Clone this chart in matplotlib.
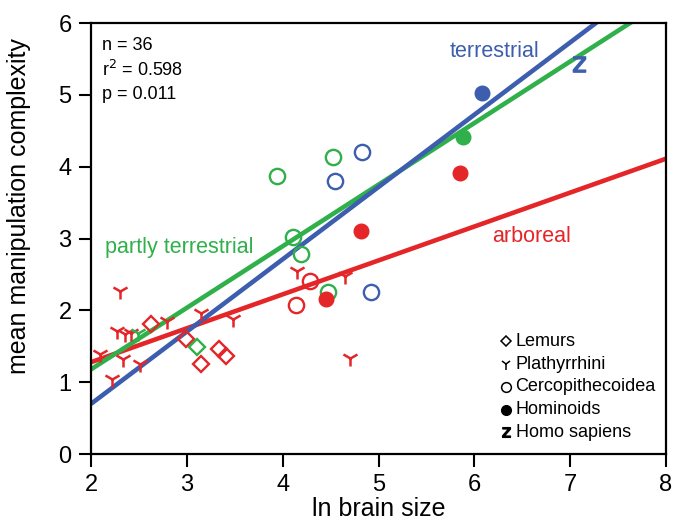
import matplotlib.pyplot as plt
import numpy as np

plt.rcParams['font.family'] = ['Liberation Sans', 'DejaVu Sans']

RED = '#e42629'
GREEN = '#2fb04a'
BLUE = '#3d5eae'

# Lemurs (diamonds)
lemur_x = [2.63, 2.99, 3.34, 3.41, 3.15, 3.11]
lemur_y = [1.81, 1.60, 1.47, 1.36, 1.25, 1.49]
lemur_c = ['r', 'r', 'r', 'r', 'r', 'g']

# Plathyrrhini (Y)
platy_x = [2.30, 2.79, 3.15, 3.48, 2.27, 2.35, 2.42, 2.49, 2.09, 2.33, 2.51, 2.22, 4.15, 4.65, 4.70]
platy_y = [2.27, 1.85, 1.97, 1.875, 1.71, 1.67, 1.68, 1.68, 1.39, 1.32, 1.25, 1.04, 2.55, 2.48, 1.34]
platy_c = ['r', 'r', 'r', 'r', 'r', 'r', 'r', 'g', 'r', 'r', 'r', 'r', 'r', 'r', 'r']

# Cercopithecoidea (open circles)
cerco_x = [3.94, 4.53, 4.11, 4.19, 4.47, 4.83, 4.55, 4.92, 4.28, 4.14]
cerco_y = [3.87, 4.13, 3.02, 2.79, 2.26, 4.20, 3.80, 2.25, 2.41, 2.07]
cerco_c = ['g', 'g', 'g', 'g', 'g', 'b', 'b', 'b', 'r', 'r']

# Hominoids (filled circles)
homin_x = [6.08, 5.88, 5.85, 4.82, 4.45]
homin_y = [5.02, 4.41, 3.91, 3.10, 2.16]
homin_c = ['b', 'g', 'r', 'r', 'r']

# Homo sapiens
homo_x = [7.09]
homo_y = [5.43]

# regression lines: (intercept at x=2, slope)
fits = {
    'arboreal': (1.28, 0.472, RED),
    'partly terrestrial': (1.18, 0.857, GREEN),
    'terrestrial': (0.70, 1.006, BLUE),
}

cmap = {'r': RED, 'g': GREEN, 'b': BLUE}

fig = plt.figure(figsize=(6.75, 5.28), dpi=100)
ax = fig.add_axes([0.1348, 0.1398, 0.8519, 0.8166])

xs = np.array([2.0, 8.0])
for name, (b, m, col) in fits.items():
    ax.plot(xs, b + m * (xs - 2), color=col, lw=3.3, zorder=2, solid_capstyle='butt')

for x, y, c in zip(lemur_x, lemur_y, lemur_c):
    ax.plot(x, y, marker='D', ms=8.5, mfc='none', mec=cmap[c], mew=1.7, ls='none', zorder=3)
for x, y, c in zip(platy_x, platy_y, platy_c):
    ax.plot(x, y, marker='1', ms=12, color=cmap[c], mew=1.8, ls='none', zorder=3)
for x, y, c in zip(cerco_x, cerco_y, cerco_c):
    ax.plot(x, y, marker='o', ms=11, mfc='none', mec=cmap[c], mew=1.7, ls='none', zorder=3)
for x, y, c in zip(homin_x, homin_y, homin_c):
    ax.plot(x, y, marker='o', ms=10.5, color=cmap[c], ls='none', zorder=3)
ax.plot(homo_x, homo_y, marker=r'$\mathsf{z}$', ms=11, color=BLUE, ls='none', zorder=3)

# line labels
ax.text(6.21, 5.6, 'terrestrial', color=BLUE, fontsize=15.5, ha='center', va='center')
ax.text(2.15, 2.88, 'partly terrestrial', color=GREEN, fontsize=15.5, ha='left', va='center')
ax.text(6.6, 3.03, 'arboreal', color=RED, fontsize=15.5, ha='center', va='center')

# stats
ax.text(2.11, 5.69, 'n = 36', fontsize=13, va='center')
ax.text(2.11, 5.35, r'r$^2$ = 0.598', fontsize=13, va='center')
ax.text(2.11, 5.0, 'p = 0.011', fontsize=13, va='center')

# legend
leg_markers = ['D', '1', 'o', 'o', r'$\mathsf{z}$']
leg_labels = ['Lemurs', 'Plathyrrhini', 'Cercopithecoidea', 'Hominoids', 'Homo sapiens']
leg_filled = [False, False, False, True, True]
for i, (mk, lab, fl) in enumerate(zip(leg_markers, leg_labels, leg_filled)):
    yy = 1.57 - i * 0.317
    ms = 5 if mk == 'D' else 7
    if mk == '1':
        ax.plot(6.33, yy, marker=mk, ms=8, color='black', mew=1.1, ls='none')
    elif fl:
        ax.plot(6.33, yy, marker=mk, ms=ms, color='black', ls='none')
    else:
        ax.plot(6.33, yy, marker=mk, ms=ms, mfc='none', mec='black', mew=1.1, ls='none')
    ax.text(6.43, yy, lab, fontsize=13, va='center', ha='left')

ax.set_xlim(2, 8)
ax.set_ylim(0, 6)
ax.set_xticks(range(2, 9))
ax.set_yticks(range(0, 7))
ax.tick_params(direction='out', length=9, width=1.5, labelsize=17, pad=5)
for s in ax.spines.values():
    s.set_linewidth(1.6)
ax.set_xlabel('ln brain size', fontsize=18, labelpad=1)
ax.set_ylabel('mean manipulation complexity', fontsize=18)
ax.yaxis.set_label_coords(-0.105, 0.576)

fig.savefig('out.png', dpi=100)
